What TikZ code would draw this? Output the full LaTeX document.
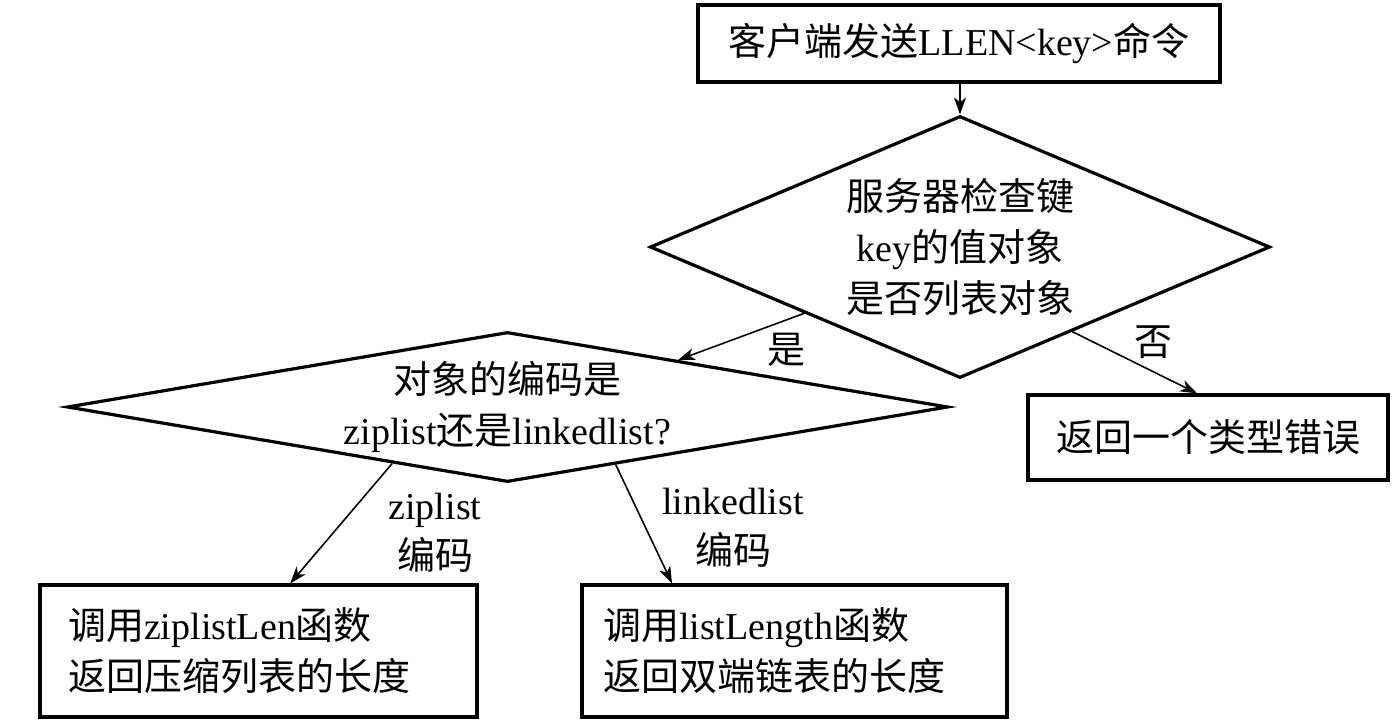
\documentclass[tikz,border=0pt]{standalone}
\usepackage{fontspec}
\setmainfont{Liberation Serif}
\newfontfamily\cjk{Noto Sans CJK SC}
\usetikzlibrary{shapes.geometric,arrows.meta,calc}
\newcommand\zh[1]{{\cjk #1}}
\begin{document}
\begin{tikzpicture}[x=1pt,y=-1pt,
  box/.style={draw, line width=3.2pt, rectangle, inner sep=0pt},
  dec/.style={draw, line width=3.2pt, diamond, inner sep=0pt, align=center},
  arr/.style={line width=1.6pt, -{Stealth[length=17pt,width=12pt,inset=5pt]}},
  txt/.style={font=\fontsize{38}{51}\selectfont},
  lbl/.style={font=\fontsize{38}{50}\selectfont, inner sep=0pt, align=center},
  lbox/.style={box, txt, align=left, inner ysep=0pt, minimum height=132pt}]
\useasboundingbox (0,0) rectangle (1398,724);

\node[box, txt, minimum width=522pt, minimum height=77pt] (start) at (959,43.5)
  {\zh{客户端发送}LLEN<key>\zh{命令}};

\node[dec, txt, minimum width=620pt, minimum height=262pt, aspect=2.37] (d1) at (960,247)
  {\zh{服务器检查键}\\key\zh{的值对象}\\\zh{是否列表对象}};

\node[dec, txt, minimum width=881pt, minimum height=150pt, aspect=5.87] (d2) at (507.5,407)
  {\zh{对象的编码是}\\ziplist\zh{还是}linkedlist?};

\node[box, txt, minimum width=360pt, minimum height=85pt] (err) at (1208,437.5)
  {\zh{返回一个类型错误}};

\node[lbox, inner xsep=28pt, text width=381pt] (zl) at (258.5,651)
  {\zh{调用}ziplistLen\zh{函数}\\\zh{返回压缩列表的长度}};

\node[lbox, inner xsep=21pt, text width=383pt] (ll) at (794.5,651)
  {\zh{调用}listLength\zh{函数}\\\zh{返回双端链表的长度}};

\draw[arr] (d1.north |- start.south) -- (d1.north);
\draw[arr] (d1.south west) -- ($(d2.north)!0.386!(d2.east)$);
\draw[arr] ($(d1.south)!0.361!(d1.east)$) -- ($(err.north west)!0.47!(err.north east)$);
\draw[arr] ($(d2.west)!0.739!(d2.south)$) -- ($(zl.north west)!0.572!(zl.north east)$);
\draw[arr] ($(d2.south)!0.245!(d2.east)$) -- ($(ll.north west)!0.214!(ll.north east)$);

\node[lbl] (yes) at (786,350) {\zh{是}};
\node[lbl] (no) at (1153,342) {\zh{否}};
\node[lbl] (lz) at (435,533) {ziplist\\\zh{编码}};
\node[lbl] (lk) at (733,528) {linkedlist\\\zh{编码}};
\end{tikzpicture}
\end{document}
